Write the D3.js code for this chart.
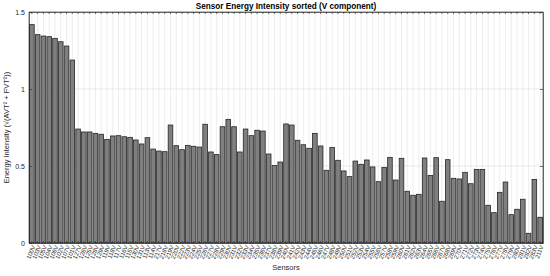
<!DOCTYPE html>
<html>
<head>
<meta charset="utf-8">
<script src="https://cdn.jsdelivr.net/npm/d3@7"></script>
<style>
  body { margin: 0; background: #fff; }
  svg { display: block; font-family: "Liberation Sans", Arial, sans-serif; }
</style>
</head>
<body>
<svg id="chart"></svg>
<script>
// sensor names (sorted by intensity)
const sensors = [
  "100V","103V","105V","104V","106V","102V","107V","101V","127V","126V",
  "125V","128V","129V","119V","118V","117V","116V","115V","130V","131V",
  "113V","114V","217V","218V","219V","220V","222V","223V","224V","225V",
  "226V","227V","228V","229V","230V","231V","232V","233V","234V","235V",
  "236V","237V","238V","239V","240V","241V","242V","243V","244V","245V",
  "246V","247V","248V","249V","250V","251V","252V","253V","254V","255V",
  "256V","257V","258V","259V","260V","261V","262V","263V","264V","265V",
  "266V","267V","268V","269V","270V","271V","272V","273V","274V","275V",
  "276V","277V","278V","279V","280V","281V","282V","283V","211V"
];
const intensity = [
  1.418, 1.353, 1.344, 1.340, 1.329, 1.307, 1.279, 1.188, 0.740, 0.721,
  0.721, 0.712, 0.706, 0.673, 0.695, 0.697, 0.690, 0.686, 0.669, 0.643,
  0.684, 0.610, 0.597, 0.593, 0.766, 0.632, 0.606, 0.634, 0.628, 0.623,
  0.771, 0.591, 0.574, 0.755, 0.803, 0.755, 0.591, 0.740, 0.697, 0.732,
  0.727, 0.578, 0.503, 0.526, 0.773, 0.766, 0.667, 0.638, 0.615, 0.712,
  0.630, 0.472, 0.621, 0.537, 0.468, 0.431, 0.532, 0.511, 0.539, 0.494,
  0.398, 0.491, 0.556, 0.409, 0.550, 0.336, 0.310, 0.316, 0.552, 0.439,
  0.554, 0.271, 0.541, 0.420, 0.416, 0.459, 0.385, 0.478, 0.478, 0.245,
  0.197, 0.329, 0.396, 0.184, 0.219, 0.284, 0.063, 0.413, 0.167
];
const yTicks = [0, 0.5, 1, 1.5];

const width = 550, height = 276;
const margin = { top: 12, right: 7, bottom: 33, left: 29 };

const svg = d3.select('#chart')
    .attr('width', width)
    .attr('height', height);

const x = d3.scaleBand()
    .domain(sensors)
    .range([margin.left, width - margin.right])
    .paddingInner(0.2)
    .paddingOuter(0.1);

const y = d3.scaleLinear()
    .domain([0, 1.5])
    .range([height - margin.bottom, margin.top]);

const center = d => x(d) + x.bandwidth() / 2;

//grid
svg.append('g')
    .selectAll('line')
    .data(sensors)
    .join('line')
    .attr('x1', d => center(d)).attr('x2', d => center(d))
    .attr('y1', margin.top).attr('y2', height - margin.bottom)
    .attr('stroke', '#e3e3e3')
    .attr('stroke-width', 0.6);

svg.append('g')
    .selectAll('line')
    .data(yTicks.slice(1, -1))
    .join('line')
    .attr('x1', margin.left).attr('x2', width - margin.right)
    .attr('y1', d => y(d)).attr('y2', d => y(d))
    .attr('stroke', '#dcdcdc')
    .attr('stroke-width', 0.6);

//bars
svg.append('g')
    .selectAll('rect')
    .data(sensors)
    .join('rect')
    .attr('x', d => x(d))
    .attr('width', x.bandwidth())
    .attr('y', (d, i) => y(intensity[i]))
    .attr('height', (d, i) => y(0) - y(intensity[i]))
    .attr('fill', '#7f7f7f')
    .attr('stroke', '#262626')
    .attr('stroke-width', 0.8);

//axes
const xAxis = d3.axisBottom(x).tickSizeInner(-2).tickSizeOuter(0).tickPadding(4);
const xAxisGroup = svg.append('g')
    .attr('transform', `translate(0,${height - margin.bottom})`)
    .call(xAxis);

xAxisGroup.selectAll('text')
    .attr('transform', 'rotate(-68)')
    .attr('dx', '-0.3em')
    .attr('dy', '0.1em')
    .style('text-anchor', 'end')
    .style('font-size', '6px')
    .attr('fill', '#262626');

const xTop = d3.axisTop(x).tickSizeInner(-2).tickSizeOuter(0).tickFormat('');
svg.append('g')
    .attr('transform', `translate(0,${margin.top})`)
    .call(xTop);

const yAxis = d3.axisLeft(y).tickValues(yTicks).tickSizeInner(-3).tickSizeOuter(0).tickPadding(4)
    .tickFormat(d3.format('~g'));
const yAxisGroup = svg.append('g')
    .attr('transform', `translate(${margin.left},0)`)
    .call(yAxis);
yAxisGroup.selectAll('text')
    .style('font-size', '7px')
    .attr('fill', '#262626');

const yRight = d3.axisRight(y).tickValues(yTicks).tickSizeInner(-3).tickSizeOuter(0).tickFormat('');
svg.append('g')
    .attr('transform', `translate(${width - margin.right},0)`)
    .call(yRight);

svg.selectAll('.domain, .tick line')
    .attr('stroke', '#262626')
    .style('stroke-width', '0.6px');

//box
svg.append('rect')
    .attr('x', margin.left).attr('y', margin.top)
    .attr('width', width - margin.left - margin.right)
    .attr('height', height - margin.top - margin.bottom)
    .attr('fill', 'none')
    .attr('stroke', '#262626')
    .attr('stroke-width', 0.6);

//labels
svg.append('text')
    .attr('x', (margin.left + width - margin.right) / 2)
    .attr('y', 9)
    .attr('text-anchor', 'middle')
    .style('font-size', '8.2px')
    .style('font-weight', 'bold')
    .attr('fill', '#000')
    .text('Sensor Energy Intensity sorted (V component)');

svg.append('text')
    .attr('x', (margin.left + width - margin.right) / 2)
    .attr('y', 270)
    .attr('text-anchor', 'middle')
    .style('font-size', '7.5px')
    .attr('fill', '#262626')
    .text('Sensors');

svg.append('text')
    .attr('transform', `translate(9,${(margin.top + height - margin.bottom) / 2}) rotate(-90)`)
    .attr('text-anchor', 'middle')
    .style('font-size', '7.5px')
    .attr('fill', '#262626')
    .text('Energy Intensity (√(AVT² + FVT²))');
</script>
</body>
</html>
